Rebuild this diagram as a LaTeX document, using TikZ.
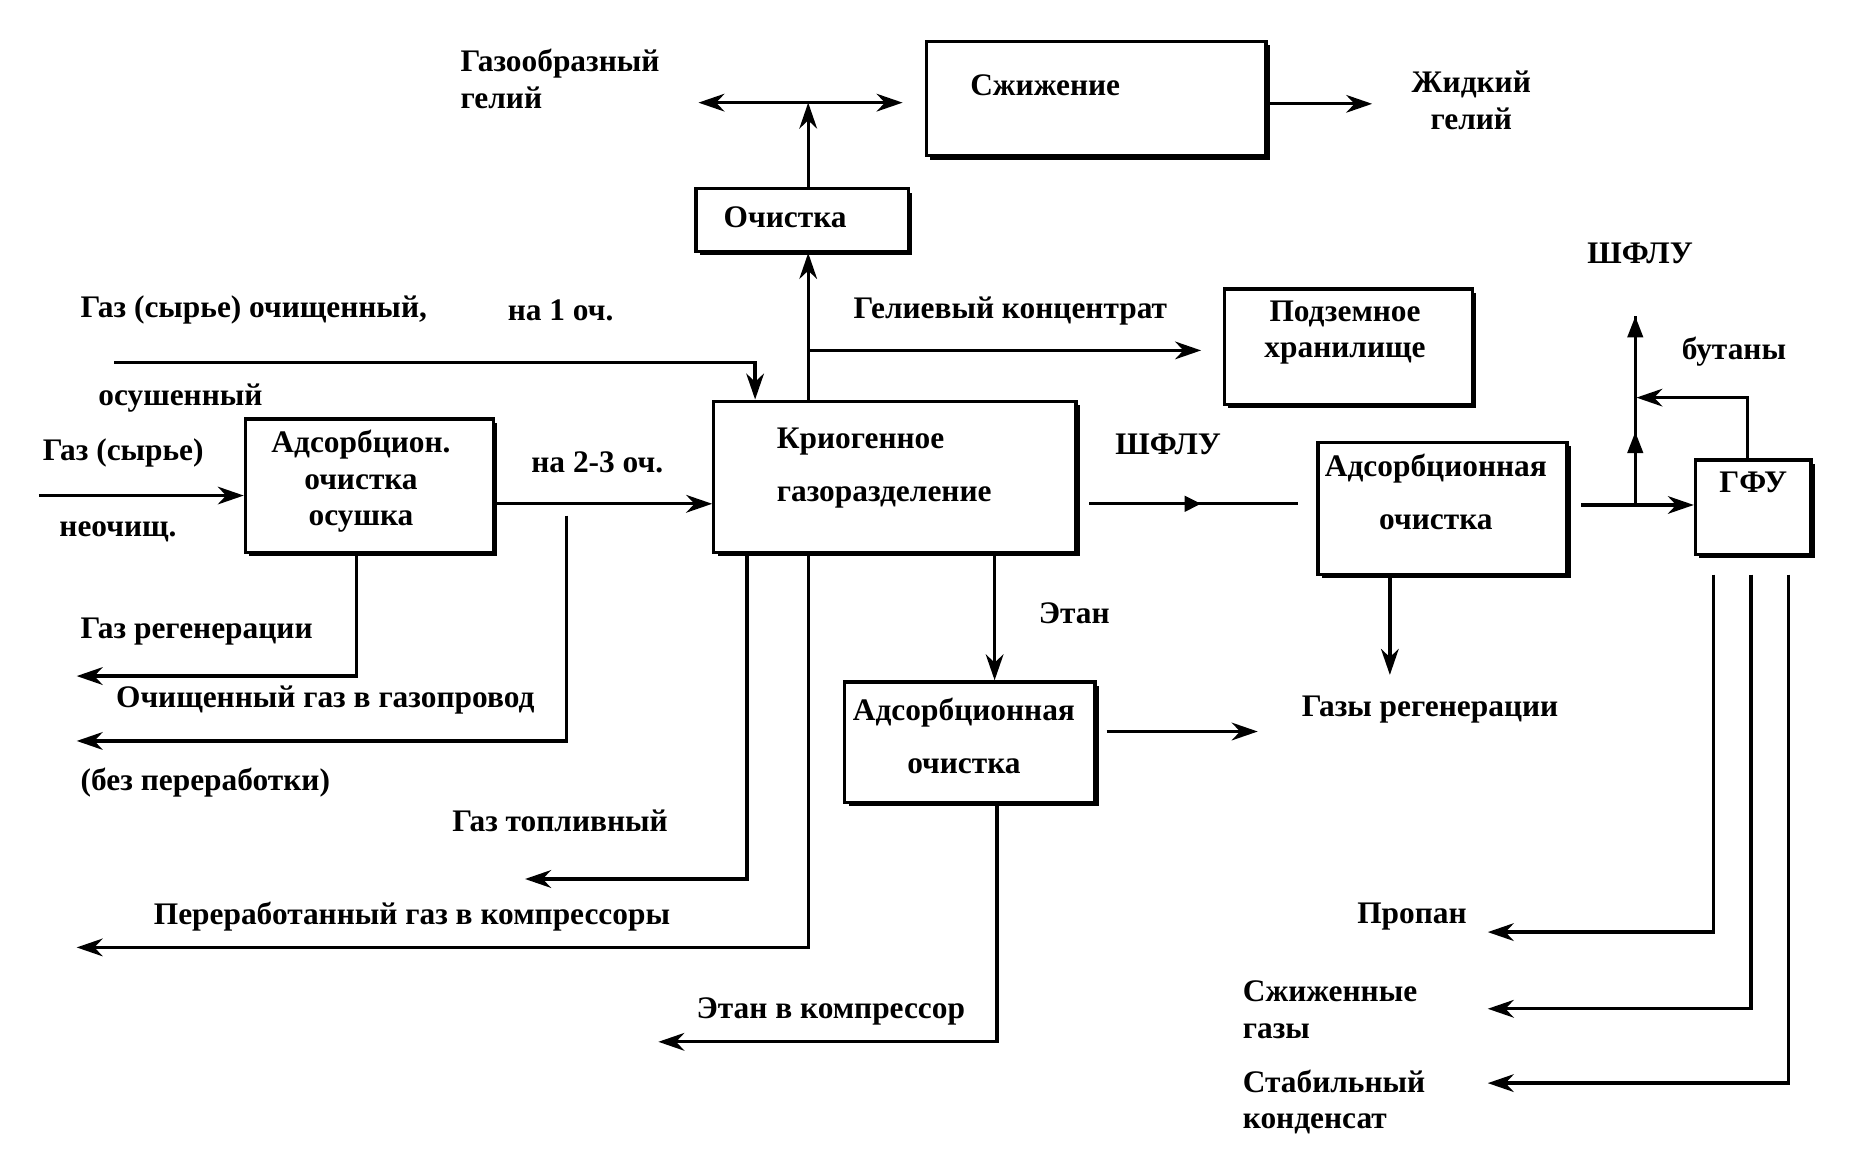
\documentclass[tikz,border=0pt]{standalone}
\usepackage{fontspec}
\setmainfont{Liberation Serif}
\usetikzlibrary{arrows.meta,shadows}
\begin{document}
\begin{tikzpicture}[x=0.5pt,y=-0.5pt,
  box/.style={draw, line width=1.4pt, fill=white, inner sep=0pt,
    drop shadow={shadow xshift=1.6pt, shadow yshift=-1.6pt, fill=black, opacity=1}},
  lbl/.style={font=\bfseries\fontsize{13.3}{15.5}\selectfont, inner sep=0pt, anchor=west},
  ln/.style={line width=1.4pt},
  arr/.style={ln, -{Stealth[length=11pt,width=7.5pt,inset=3.5pt]}},
  tri/.style={ln, -{Triangle[length=9pt,width=6.5pt]}},
  trim/.style={ln, -{Triangle[length=7pt,width=6.5pt]}},
  dbl/.style={ln, {Stealth[length=11pt,width=7.5pt,inset=3.5pt]}-{Stealth[length=11pt,width=7.5pt,inset=3.5pt]}}]
\useasboundingbox (0,0) rectangle (1568,980);

% boxes
\node[box, minimum width=144pt, minimum height=48.5pt] (szh) at (929,83.5) {};
\node[box, minimum width=90pt, minimum height=26.5pt] (och) at (680,186.5) {};
\node[box, minimum width=105pt, minimum height=49pt] (pod) at (1143,294) {};
\node[box, minimum width=105pt, minimum height=56.5pt] (ads) at (313,411.5) {};
\node[box, minimum width=153.5pt, minimum height=64pt] (kri) at (758.5,404) {};
\node[box, minimum width=105.5pt, minimum height=56pt] (adr) at (1222.5,431) {};
\node[box, minimum width=49pt, minimum height=40pt] (gfu) at (1486,430) {};
\node[box, minimum width=106pt, minimum height=51pt] (adl) at (822,629) {};

% box texts
\node[lbl] (tszh) at (822,72) {Сжижение};
\node[lbl] (toch) at (613,184) {Очистка};
\node[lbl, anchor=center, align=center] (tpod) at (1140,282) {Подземное\\хранилище};
\node[lbl, anchor=center, align=center] (tads) at (306,408) {Адсорбцион.\\очистка\\осушка};
\node[lbl, align=left] (tkri) at (658,397) {Криогенное\\[7pt]газоразделение};
\node[lbl, anchor=center, align=center] (tadr) at (1217,417) {Адсорбционная\\[7pt]очистка};
\node[lbl, anchor=center] (tgfu) at (1486,409) {ГФУ};
\node[lbl, anchor=center, align=center] (tadl) at (817,624) {Адсорбционная\\[7pt]очистка};

% labels
\node[lbl, align=left] (l1) at (390,67) {Газообразный\\гелий};
\node[lbl, anchor=center, align=center] (l2) at (1247,85) {Жидкий\\гелий};
\node[lbl] (l3) at (723,264) {Гелиевый концентрат};
\node[lbl] (l4) at (1345,215) {ШФЛУ};
\node[lbl] (l5) at (1425,298) {бутаны};
\node[lbl] (l6) at (68,263) {Газ (сырье) очищенный,};
\node[lbl] (l7) at (430,263) {на 1 оч.};
\node[lbl] (l8) at (83,337) {осушенный};
\node[lbl] (l9) at (36,384) {Газ (сырье)};
\node[lbl] (l10) at (50,451) {неочищ.};
\node[lbl] (l11) at (450,392) {на 2-3 оч.};
\node[lbl] (l12) at (945,377) {ШФЛУ};
\node[lbl] (l13) at (880,520) {Этан};
\node[lbl] (l14) at (68,535) {Газ регенерации};
\node[lbl] (l15) at (98,593) {Очищенный газ в газопровод};
\node[lbl] (l16) at (68,663) {(без переработки)};
\node[lbl] (l17) at (383,696) {Газ топливный};
\node[lbl] (l18) at (130,777) {Переработанный газ в компрессоры};
\node[lbl] (l19) at (590,857) {Этан в компрессор};
\node[lbl] (l20) at (1103,601) {Газы регенерации};
\node[lbl] (l21) at (1150,777) {Пропан};
\node[lbl, align=left] (l22) at (1053,856) {Сжиженные\\газы};
\node[lbl, align=left] (l23) at (1053,934) {Стабильный\\конденсат};

% coordinates
\coordinate (hl) at (592,87);
\coordinate (hr) at (765,87);
\coordinate (hm) at (685,87);
\coordinate (lh) at (1163,88);
\coordinate (hk) at (1018,297);
\coordinate (g1) at (97,307);
\coordinate (k1) at (640,0);
\coordinate (g2) at (33,420);
\coordinate (c427) at (0,427);
\coordinate (og0) at (480,437);
\coordinate (og1) at (65,628);
\coordinate (x302) at (302,0);
\coordinate (gr1) at (65,573);
\coordinate (x633) at (633,0);
\coordinate (gt1) at (445,745);
\coordinate (pg1) at (65,803);
\coordinate (x843) at (843,0);
\coordinate (s0) at (923,427);
\coordinate (s1) at (1018,427);
\coordinate (s2) at (1100,427);
\coordinate (r0) at (1340,428);
\coordinate (u0) at (1386,428);
\coordinate (u1) at (1386,366);
\coordinate (u2) at (1386,268);
\coordinate (x1481) at (1481,0);
\coordinate (b1) at (1387,337);
\coordinate (f1) at (1452,487);
\coordinate (f2) at (1484,487);
\coordinate (f3) at (1516,487);
\coordinate (p1) at (1261,790);
\coordinate (p2) at (1261,855);
\coordinate (p3) at (1261,918);
\coordinate (x1178) at (1178,0);
\coordinate (rg1) at (1178,572);
\coordinate (lr0) at (938,620);
\coordinate (lr1) at (1066,620);
\coordinate (x845) at (845,0);
\coordinate (ek1) at (558,883);

% connectors
\draw[dbl] (hl) -- (hr);
\draw[arr] (och.north -| hm) -- (hm);
\draw[arr] (szh.east |- lh) -- (lh);
\draw[arr] (kri.north -| hm) -- (och.south -| hm);
\draw[arr] (hk -| hm) -- (hk);
\draw[arr] (g1) -| (kri.north -| k1);
\draw[arr] (g2) -- (ads.west |- g2);
\draw[arr] (ads.east |- c427) -- (kri.west |- c427);
\draw[arr] (og0) |- (og1);
\draw[arr] (ads.south -| x302) |- (gr1);
\draw[arr] (kri.south -| x633) |- (gt1);
\draw[arr] (kri.south -| hm) |- (pg1);
\draw[arr] (kri.south -| x843) -- (adl.north -| x843);
\draw[ln] (s0) -- (s2);
\draw[trim] (s0) -- (s1);
\draw[arr] (r0) -- (gfu.west |- r0);
\draw[ln] (u0) -- (u2);
\draw[tri] (u0) -- (u1);
\draw[tri] (u1) -- (u2);
\draw[arr] (gfu.north -| x1481) |- (b1);
\draw[arr] (f1) |- (p1);
\draw[arr] (f2) |- (p2);
\draw[arr] (f3) |- (p3);
\draw[arr] (adr.south -| x1178) -- (rg1);
\draw[arr] (lr0) -- (lr1);
\draw[arr] (adl.south -| x845) |- (ek1);
\end{tikzpicture}
\end{document}
